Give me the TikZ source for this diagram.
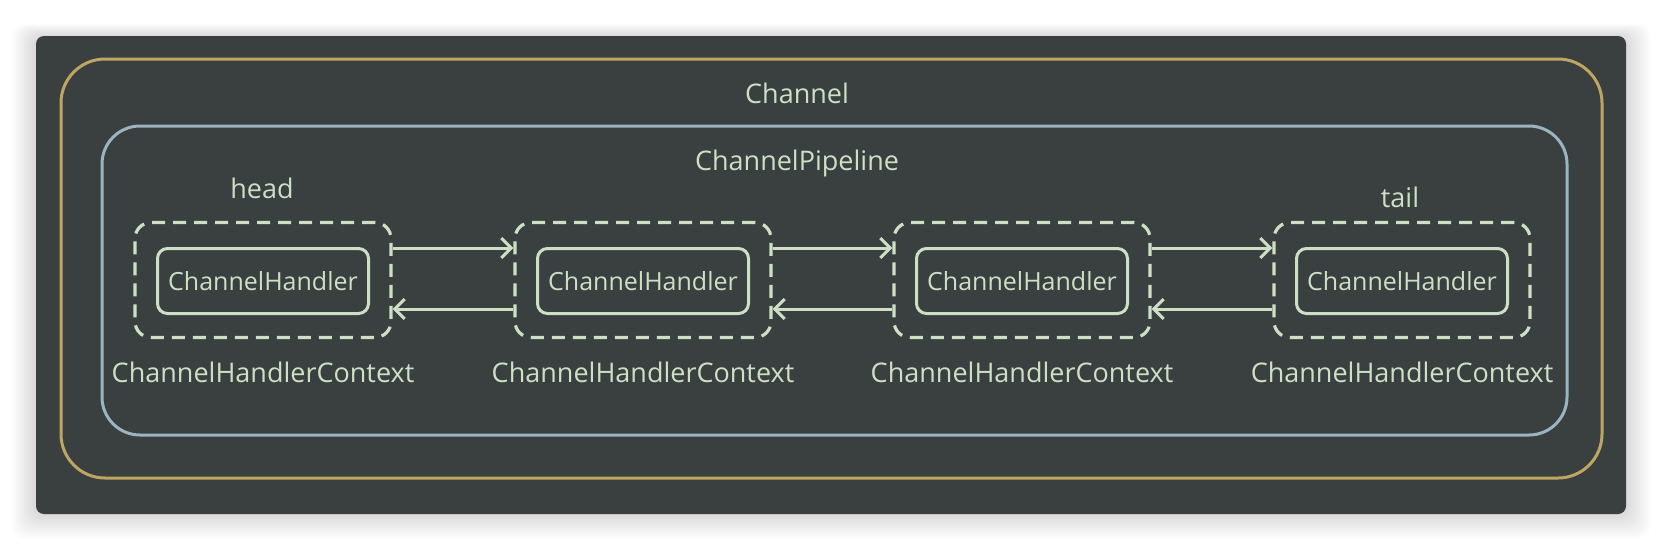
\documentclass[tikz,border=0pt]{standalone}
\usepackage{fontspec}
\setmainfont{Open Sans}
\usetikzlibrary{arrows.meta}

\definecolor{panelbg}{RGB}{58,63,63}
\definecolor{chanline}{RGB}{190,166,98}
\definecolor{pipeline}{RGB}{156,180,192}
\definecolor{handler}{RGB}{205,224,198}

\begin{document}
\begin{tikzpicture}[x=1pt,y=-1pt,
  lbl/.style={text=handler,font=\fontsize{27}{30}\selectfont},
  ctxbox/.style={draw=handler,line width=3.2pt,rounded corners=16pt,
    dash pattern=on 13pt off 8pt,minimum width=256pt,minimum height=115pt},
  hdlbox/.style={draw=handler,line width=3pt,rounded corners=10pt,text=handler,
    minimum width=211pt,minimum height=65pt,font=\fontsize{25}{28}\selectfont},
  link/.style={draw=handler,line width=3pt,-{Straight Barb[length=10pt,width=20pt]}}]
\useasboundingbox (0,0) rectangle (1662,550);
\fill[white] (0,0) rectangle (1662,550);

% shadow and panel
\foreach \s in {1,...,12}
  \fill[black,opacity=0.012,rounded corners=12pt]
    (36-2*\s,36-\s) rectangle (1626+2*\s,514+2*\s);
\fill[panelbg,rounded corners=8pt] (36,36) rectangle (1626,514);

\draw[chanline,line width=3pt,rounded corners=44pt] (61,59) rectangle (1602,478);
\draw[pipeline,line width=3pt,rounded corners=38pt] (102,126) rectangle (1567,435);

\node[lbl] (channel) at (797,93) {Channel};
\node[lbl] (pipe) at (797,163) {ChannelPipeline};
\node[lbl] (head) at (262,188) {head};
\node[lbl] (tail) at (1400,197) {tail};

\node[ctxbox] (c1) at (263,280) {};
\node[ctxbox] (c2) at (643,280) {};
\node[ctxbox] (c3) at (1022,280) {};
\node[ctxbox] (c4) at (1402,280) {};

\node[hdlbox] (h1) at (263,281) {ChannelHandler};
\node[hdlbox] (h2) at (643,281) {ChannelHandler};
\node[hdlbox] (h3) at (1022,281) {ChannelHandler};
\node[hdlbox] (h4) at (1402,281) {ChannelHandler};

\node[lbl] (x1) at (263,372) {ChannelHandlerContext};
\node[lbl] (x2) at (643,372) {ChannelHandlerContext};
\node[lbl] (x3) at (1022,372) {ChannelHandlerContext};
\node[lbl] (x4) at (1402,372) {ChannelHandlerContext};

\draw[link] ([yshift=32pt]c1.east) -- ([yshift=32pt]c2.west);
\draw[link] ([yshift=-29pt]c2.west) -- ([yshift=-29pt]c1.east);
\draw[link] ([yshift=32pt]c2.east) -- ([yshift=32pt]c3.west);
\draw[link] ([yshift=-29pt]c3.west) -- ([yshift=-29pt]c2.east);
\draw[link] ([yshift=32pt]c3.east) -- ([yshift=32pt]c4.west);
\draw[link] ([yshift=-29pt]c4.west) -- ([yshift=-29pt]c3.east);
\end{tikzpicture}
\end{document}
